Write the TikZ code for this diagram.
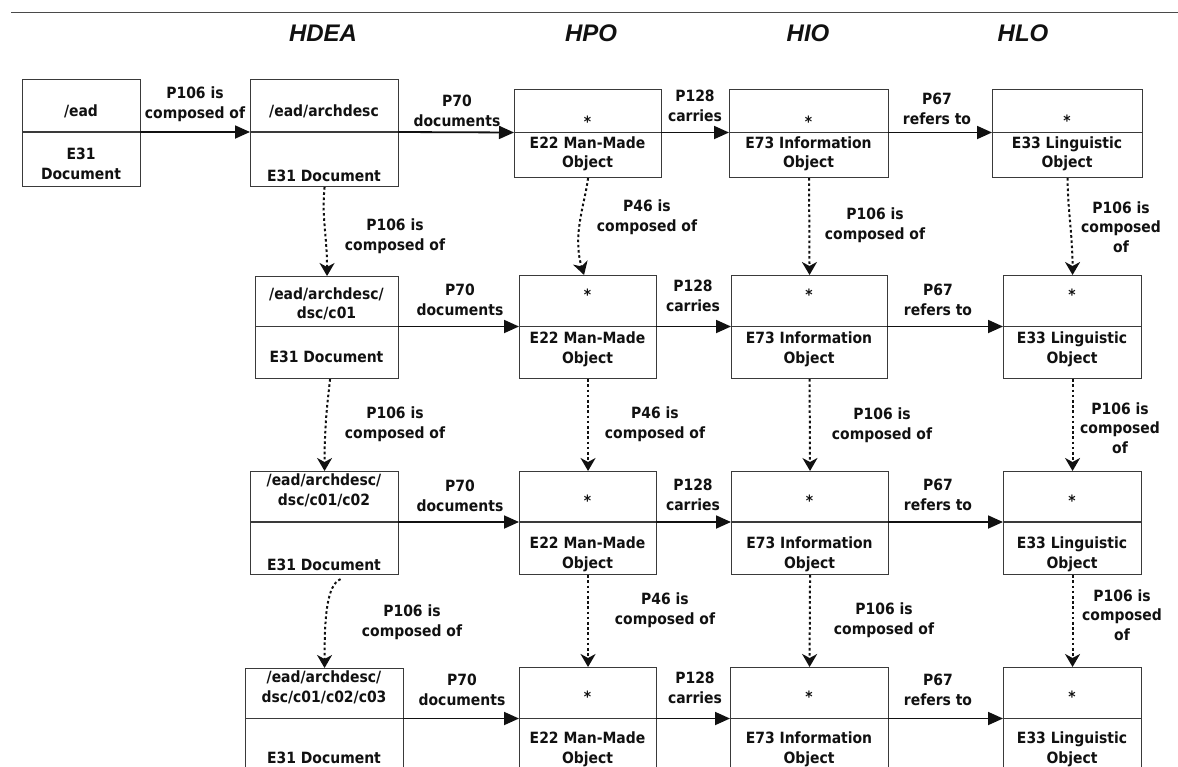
\documentclass[tikz,border=0pt]{standalone}
\usepackage{fontspec}
\setmainfont{DejaVu Sans Condensed}
\newfontfamily\headfont{Liberation Sans}
\usetikzlibrary{arrows.meta}

\definecolor{boxgray}{HTML}{3A3A3A}
\definecolor{inkblack}{HTML}{111111}
\definecolor{rulegray}{HTML}{4A4A4A}

\tikzset{
  box/.style={draw=boxgray, line width=1.1pt, inner sep=0pt, anchor=north west},
  divider/.style={draw=boxgray, line width=1.1pt},
  txt/.style={font=\bfseries\fontsize{15.5}{19.5}\selectfont, text=inkblack, align=center, inner sep=0pt},
  head/.style={font=\headfont\bfseries\itshape\fontsize{24}{28}\selectfont, text=inkblack, inner sep=0pt},
  rel/.style={draw=inkblack, line width=1.8pt, -{Triangle[length=15pt,width=13pt]}},
  part/.style={draw=inkblack, line width=2pt, dash pattern=on 2.6pt off 2.6pt,
    -{Stealth[length=13pt,width=15pt,inset=4pt]}},
  toprule/.style={draw=rulegray, line width=1pt},
}

% a two-part class box: name, left, top, right, bottom, divider level
\newcommand\ebox[6]{%
  \node[box, minimum width={(#4-#2)*1pt}, minimum height={(#5-#3)*1pt}] (#1) at (#2,#3) {};
  \coordinate (#1-w) at (#2,#6);
  \coordinate (#1-e) at (#4,#6);
  \draw[divider] (#1-w) -- (#1-e);
}

\begin{document}
\begin{tikzpicture}[x=1pt,y=-1pt]
\useasboundingbox (0,0) rectangle (1178,766);
\clip (0,0) rectangle (1178,766);

% heading rule and column titles
\coordinate (ruleL) at (11,12);
\coordinate (ruleR) at (1178,12);
\draw[toprule] (ruleL) -- (ruleR);
\node[head] (hdea) at (323,33) {HDEA};
\node[head] (hpo)  at (591,33) {HPO};
\node[head] (hio)  at (808,33) {HIO};
\node[head] (hlo)  at (1023,33) {HLO};

% ---- row 1
\ebox{a0}{22}{79}{140}{186}{132}
\ebox{a1}{250}{79}{398}{186}{132}
\ebox{b1}{514}{89}{661}{177}{132.5}
\ebox{c1}{729}{89}{888}{177}{132.5}
\ebox{d1}{992}{89}{1142}{177}{132.5}
% ---- row 2
\ebox{a2}{255}{276}{398}{378}{326.5}
\ebox{b2}{519}{275}{656}{378}{326.5}
\ebox{c2}{731}{275}{887}{378}{326.5}
\ebox{d2}{1003}{275}{1141}{378}{326.5}
% ---- row 3
\ebox{a3}{250}{471}{398}{574}{522}
\ebox{b3}{519}{471}{656}{574}{522}
\ebox{c3}{731}{471}{888}{574}{522}
\ebox{d3}{1003}{471}{1141}{574}{522}
% ---- row 4
\ebox{a4}{245}{668}{403}{785}{718.5}
\ebox{b4}{519}{667}{656}{785}{718.5}
\ebox{c4}{730}{667}{888}{785}{718.5}
\ebox{d4}{1003}{667}{1141}{785}{718.5}

% box contents, row 1
\node[txt] (a0-t) at (81,111) {/ead};
\node[txt] (a0-b) at (81,164) {E31\\Document};
\node[txt] (a1-t) at (324,111) {/ead/archdesc};
\node[txt] (a1-b) at (324,176) {E31 Document};
\node[txt] (b1-t) at (587.5,121.5) {*};
\node[txt] (b1-b) at (587.5,154) {E22 Man-Made\\Object};
\node[txt] (c1-t) at (808.5,121.5) {*};
\node[txt] (c1-b) at (808.5,154) {E73 Information\\Object};
\node[txt] (d1-t) at (1067,121) {*};
\node[txt] (d1-b) at (1067,154) {E33 Linguistic\\Object};

% row 2
\node[txt] (a2-t) at (326.5,304) {/ead/archdesc/\\dsc/c01};
\node[txt] (a2-b) at (326.5,357) {E31 Document};
\node[txt] (b2-t) at (587.5,294.5) {*};
\node[txt] (b2-b) at (587.5,349.5) {E22 Man-Made\\Object};
\node[txt] (c2-t) at (809,294.5) {*};
\node[txt] (c2-b) at (809,349.5) {E73 Information\\Object};
\node[txt] (d2-t) at (1072,294.5) {*};
\node[txt] (d2-b) at (1072,349.5) {E33 Linguistic\\Object};

% row 3
\node[txt] (a3-t) at (324,490.5) {/ead/archdesc/\\dsc/c01/c02};
\node[txt] (a3-b) at (324,565) {E31 Document};
\node[txt] (b3-t) at (587.5,500.5) {*};
\node[txt] (b3-b) at (587.5,554.5) {E22 Man-Made\\Object};
\node[txt] (c3-t) at (809.5,500.5) {*};
\node[txt] (c3-b) at (809.5,554.5) {E73 Information\\Object};
\node[txt] (d3-t) at (1072,501) {*};
\node[txt] (d3-b) at (1072,554.5) {E33 Linguistic\\Object};

% row 4
\node[txt] (a4-t) at (324,687.5) {/ead/archdesc/\\dsc/c01/c02/c03};
\node[txt] (a4-b) at (324,758) {E31 Document};
\node[txt] (b4-t) at (587.5,696.5) {*};
\node[txt] (b4-b) at (587.5,749.5) {E22 Man-Made\\Object};
\node[txt] (c4-t) at (809,696.5) {*};
\node[txt] (c4-b) at (809,749.5) {E73 Information\\Object};
\node[txt] (d4-t) at (1072,696.5) {*};
\node[txt] (d4-b) at (1072,749.5) {E33 Linguistic\\Object};

% horizontal properties
\draw[rel] (a0-e) -- (a1-w);
\node[txt] (p106-0) at (195,104) {P106 is\\composed of};
\foreach \r in {1,2,3,4}{
  \draw[rel] (a\r-e) -- (b\r-w);
  \draw[rel] (b\r-e) -- (c\r-w);
  \draw[rel] (c\r-e) -- (d\r-w);
}
\node[txt] (p70-1)  at (457,111) {P70\\documents};
\node[txt] (p128-1) at (695,106) {P128\\carries};
\node[txt] (p67-1)  at (937,109) {P67\\refers to};
\node[txt] (p70-2)  at (460,300) {P70\\documents};
\node[txt] (p128-2) at (693,296) {P128\\carries};
\node[txt] (p67-2)  at (938,300) {P67\\refers to};
\node[txt] (p70-3)  at (460,496) {P70\\documents};
\node[txt] (p128-3) at (693,495) {P128\\carries};
\node[txt] (p67-3)  at (938,495) {P67\\refers to};
\node[txt] (p70-4)  at (462,690) {P70\\documents};
\node[txt] (p128-4) at (695,688) {P128\\carries};
\node[txt] (p67-4)  at (938,690) {P67\\refers to};

% vertical part-of properties, rows 1 -> 2
\draw[part] (a1.south) .. controls +(-3,30) and +(0,-40) .. (a2.north);
\draw[part] (b1.south) .. controls +(-3,25) and +(-12,-40) .. ([xshift=-4pt]b2.north);
\draw[part] (c1.south) -- (c2.north);
\draw[part] (d1.south) .. controls +(0,30) and +(0,-40) .. (d2.north);
\node[txt] (v-a12) at (395,236) {P106 is\\composed of};
\node[txt] (v-b12) at (647,217) {P46 is\\composed of};
\node[txt] (v-c12) at (875,225) {P106 is\\composed of};
\node[txt] (v-d12) at (1121,227) {P106 is\\composed\\of};

% rows 2 -> 3
\draw[part] ([xshift=3pt]a2.south) .. controls +(-2,20) and +(0,-50) .. (a3.north);
\draw[part] (b2.south) -- (b3.north);
\draw[part] (c2.south) -- (c3.north);
\draw[part] (d2.south) -- (d3.north);
\node[txt] (v-a23) at (395,424) {P106 is\\composed of};
\node[txt] (v-b23) at (655,424) {P46 is\\composed of};
\node[txt] (v-c23) at (882,425) {P106 is\\composed of};
\node[txt] (v-d23) at (1120,428) {P106 is\\composed\\of};

% rows 3 -> 4
\draw[part] ([xshift=16pt,yshift=-4pt]a3.south) .. controls +(-14,6) and +(0,-50) .. (a4.north);
\draw[part] (b3.south) -- (b4.north);
\draw[part] (c3.south) -- (c4.north);
\draw[part] (d3.south) -- (d4.north);
\node[txt] (v-a34) at (412,622) {P106 is\\composed of};
\node[txt] (v-b34) at (665,610) {P46 is\\composed of};
\node[txt] (v-c34) at (884,620) {P106 is\\composed of};
\node[txt] (v-d34) at (1122,615) {P106 is\\composed\\of};
\end{tikzpicture}
\end{document}
